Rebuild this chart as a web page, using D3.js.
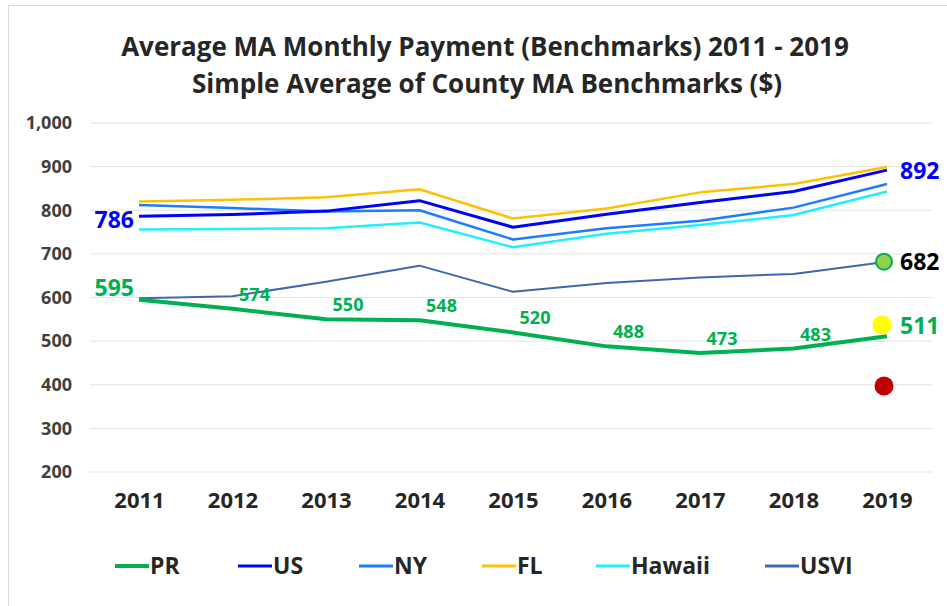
<!DOCTYPE html>
<html>
<head>
<meta charset="utf-8">
<script src="https://cdnjs.cloudflare.com/ajax/libs/d3/7.8.5/d3.min.js"></script>
<style>
  body { margin: 0; background: #fff; }
  text { font-family: "Open Sans", sans-serif; font-weight: bold; }
</style>
</head>
<body>
<script>
var width = 947;
var height = 606;

var years = [2011, 2012, 2013, 2014, 2015, 2016, 2017, 2018, 2019];
var yTicks = [200, 300, 400, 500, 600, 700, 800, 900, 1000];

var prValues = [595, 574, 550, 548, 520, 488, 473, 483, 511];
var usValues = [786, 790, 798, 822, 761, 791, 818, 843, 892];
var nyValues = [812, 805, 797, 800, 733, 759, 776, 806, 860];
var flValues = [820, 824, 830, 848, 781, 804, 841, 860, 899];
var hawaiiValues = [756, 757, 759, 772, 715, 746, 766, 789, 843];
var usviValues = [598, 603, 636, 673, 613, 633, 646, 654, 682];

// single markers at 2019
var markerValues = [682, 537, 397];
var markerColors = ["#92D050", "#FFFF00", "#C00000"];

var seriesNames = ["PR", "US", "NY", "FL", "Hawaii", "USVI"];
var seriesColors = ["#00B050", "#0000FF", "#1F7BFF", "#FFC000", "#1FF0FF", "#3F68B0"];
var seriesWidths = [4, 3, 2.5, 2.5, 2.5, 2];

var series = [prValues, usValues, nyValues, flValues, hawaiiValues, usviValues];

var svg = d3.select("body")
    .append("svg")
    .attr("width", width)
    .attr("height", height)

// outer frame
svg.append("rect")
    .attr("x", 8.5).attr("y", 5.5)
    .attr("width", 1000).attr("height", 700)
    .attr("fill", "none")
    .attr("stroke", "#d9d9d9")

var xScale = d3.scalePoint()
    .domain(years)
    .range([139, 887])

var yScale = d3.scaleLinear()
    .domain([200, 1000])
    .range([472, 123])

// title
svg.append("text")
    .attr("x", 485).attr("y", 56)
    .attr("text-anchor", "middle")
    .attr("font-size", 26)
    .attr("fill", "#262626")
    .text("Average MA Monthly Payment (Benchmarks) 2011 - 2019")
svg.append("text")
    .attr("x", 487).attr("y", 93)
    .attr("text-anchor", "middle")
    .attr("font-size", 26)
    .attr("fill", "#262626")
    .text("Simple Average of County MA Benchmarks ($)")

// gridlines
svg.append("g")
    .selectAll("line")
    .data(yTicks)
    .enter()
    .append("line")
    .attr("x1", 90).attr("x2", 933)
    .attr("y1", function (d) { return yScale(d) })
    .attr("y2", function (d) { return yScale(d) })
    .attr("stroke", "#e3e3e3")
    .attr("stroke-width", 1)

// y axis labels
var yAxis = d3.axisLeft(yScale)
    .tickValues(yTicks)
    .tickSize(0)
    .tickPadding(0)
    .tickFormat(d3.format(","))

svg.append("g")
    .attr("class", "yaxis")
    .attr("transform", "translate(72,0)")
    .call(yAxis)
    .call(function (g) {
        g.select(".domain").remove()
        g.selectAll("text")
            .attr("font-size", 18)
            .attr("fill", "#404040")
            .attr("font-family", null)
    })

// x axis labels
var xAxis = d3.axisBottom(xScale)
    .tickSize(0)
    .tickPadding(0)

svg.append("g")
    .attr("class", "xaxis")
    .attr("transform", "translate(0,492)")
    .call(xAxis)
    .call(function (g) {
        g.select(".domain").remove()
        g.selectAll("text")
            .attr("font-size", 22)
            .attr("fill", "#262626")
            .attr("font-family", null)
    })

var line = d3.line()
    .x(function (d, i) { return xScale(years[i]) })
    .y(function (d) { return yScale(d) })

// draw back to front: USVI, Hawaii, FL, NY, US, PR
var order = [5, 4, 3, 2, 1, 0];
svg.append("g")
    .selectAll("path")
    .data(order)
    .enter()
    .append("path")
    .attr("d", function (k) { return line(series[k]) })
    .attr("fill", "none")
    .attr("stroke", function (k) { return seriesColors[k] })
    .attr("stroke-width", function (k) { return seriesWidths[k] })
    .attr("stroke-linejoin", "round")

// markers at 2019
svg.append("g")
    .selectAll("circle")
    .data(markerValues)
    .enter()
    .append("circle")
    .attr("cx", function (d, i) { return xScale(2019) - (i == 1 ? 5 : 3) })
    .attr("cy", function (d) { return yScale(d) })
    .attr("r", function (d, i) { return i == 0 ? 8 : 9.5 })
    .attr("fill", function (d, i) { return markerColors[i] })
    .attr("stroke", function (d, i) { return i == 0 ? "#00B050" : "none" })
    .attr("stroke-width", 2)

// PR inner labels
svg.append("g")
    .selectAll("text")
    .data(prValues.slice(1, 8))
    .enter()
    .append("text")
    .attr("x", function (d, i) { return xScale(years[i + 1]) + 22 })
    .attr("y", function (d) { return yScale(d) - 8 })
    .attr("text-anchor", "middle")
    .attr("font-size", 18)
    .attr("fill", "#00B050")
    .text(function (d) { return d })

// end labels
var bigLabels = [
    { v: prValues[0], x: xScale(2011) - 5, anchor: "end", c: "#00B050", dy: -12 },
    { v: usValues[0], x: xScale(2011) - 5, anchor: "end", c: "#0000FF", dy: 4 },
    { v: usValues[8], x: xScale(2019) + 13, anchor: "start", c: "#0000FF", dy: 1 },
    { v: usviValues[8], x: xScale(2019) + 13, anchor: "start", c: "#000000", dy: 0 },
    { v: prValues[8], x: xScale(2019) + 13, anchor: "start", c: "#00B050", dy: -10 }
];
svg.append("g")
    .selectAll("text")
    .data(bigLabels)
    .enter()
    .append("text")
    .attr("x", function (d) { return d.x })
    .attr("y", function (d) { return yScale(d.v) + d.dy })
    .attr("dy", "0.35em")
    .attr("text-anchor", function (d) { return d.anchor })
    .attr("font-size", 23)
    .attr("fill", function (d) { return d.c })
    .text(function (d) { return d.v })

// legend
var legendX = [115, 238, 359, 482, 596, 765];
var legend = svg.append("g")
    .selectAll("g")
    .data(seriesNames)
    .enter()
    .append("g")
    .attr("transform", function (d, i) { return "translate(" + legendX[i] + ",566)" })
legend.append("line")
    .attr("x1", 0).attr("x2", 34)
    .attr("stroke", function (d, i) { return seriesColors[i] })
    .attr("stroke-width", function (d, i) { return i == 0 ? 4 : 3 })
legend.append("text")
    .attr("x", 35)
    .attr("dy", "0.35em")
    .attr("font-size", 23)
    .attr("fill", "#262626")
    .text(function (d) { return d })
</script>
</body>
</html>
